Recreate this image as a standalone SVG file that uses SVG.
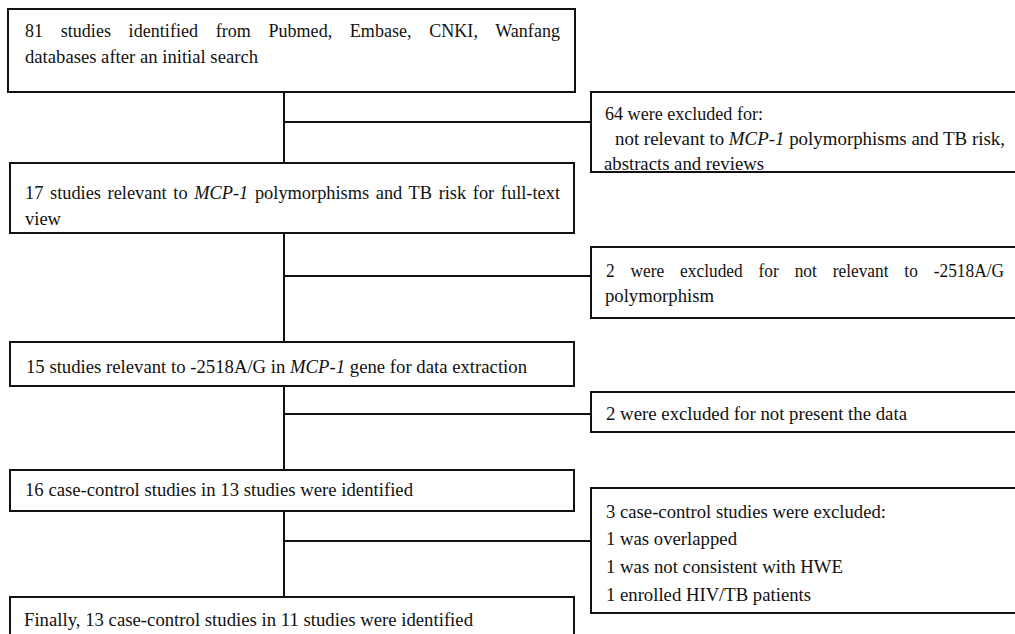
<svg xmlns="http://www.w3.org/2000/svg" width="1015" height="634" viewBox="0 0 1015 634">
<style>
.box{fill:#fff;stroke:#111;stroke-width:2}
.ln{stroke:#111;stroke-width:2;fill:none}
text{font-family:"Liberation Serif","Times New Roman",serif;font-size:18px;fill:#111}
.i{font-style:italic}
</style>
<rect width="1015" height="634" fill="#fff"/>
<g id="connectors">
<path class="ln" d="M284 92V163M284 122H591"/>
<path class="ln" d="M284 233V342M284 276H591"/>
<path class="ln" d="M284 386V470M284 414H591"/>
<path class="ln" d="M284 511V597M284 541H591"/>
</g>
<g id="n1"><rect class="box" x="8" y="9" width="567" height="83"/>
<text x="25" y="37" word-spacing="13" textLength="535" lengthAdjust="spacing">81 studies identified from Pubmed, Embase, CNKI, Wanfang</text>
<text x="25" y="63" textLength="233" lengthAdjust="spacingAndGlyphs">databases after an initial search</text></g>
<g id="x1"><rect class="box" x="591" y="92" width="440" height="80"/>
<text x="605" y="120" textLength="158" lengthAdjust="spacingAndGlyphs">64 were excluded for:</text>
<text x="615" y="145" textLength="390" lengthAdjust="spacingAndGlyphs">not relevant to <tspan class="i">MCP-1</tspan> polymorphisms and TB risk,</text>
<text x="604" y="170" textLength="160" lengthAdjust="spacingAndGlyphs">abstracts and reviews</text></g>
<g id="n2"><rect class="box" x="10" y="163" width="564" height="70"/>
<text x="25" y="199" word-spacing="2" textLength="535" lengthAdjust="spacingAndGlyphs">17 studies relevant to <tspan class="i">MCP-1</tspan> polymorphisms and TB risk for full-text</text>
<text x="25" y="225" textLength="36" lengthAdjust="spacingAndGlyphs">view</text></g>
<g id="x2"><rect class="box" x="591" y="247" width="440" height="71"/>
<text x="606" y="277" word-spacing="12" textLength="398" lengthAdjust="spacingAndGlyphs">2 were excluded for not relevant to -2518A/G</text>
<text x="605" y="302" textLength="109" lengthAdjust="spacingAndGlyphs">polymorphism</text></g>
<g id="n3"><rect class="box" x="10" y="342" width="564" height="44"/>
<text x="26" y="373" textLength="501" lengthAdjust="spacingAndGlyphs">15 studies relevant to -2518A/G in <tspan class="i">MCP-1</tspan> gene for data extraction</text></g>
<g id="x3"><rect class="box" x="591" y="392" width="440" height="40"/>
<text x="606" y="420" textLength="301" lengthAdjust="spacingAndGlyphs">2 were excluded for not present the data</text></g>
<g id="n4"><rect class="box" x="10" y="470" width="564" height="41"/>
<text x="25" y="496" textLength="388" lengthAdjust="spacingAndGlyphs">16 case-control studies in 13 studies were identified</text></g>
<g id="x4"><rect class="box" x="591" y="488" width="440" height="125"/>
<text x="606" y="518" textLength="280" lengthAdjust="spacingAndGlyphs">3 case-control studies were excluded:</text>
<text x="606" y="545" textLength="131" lengthAdjust="spacingAndGlyphs">1 was overlapped</text>
<text x="606" y="573" textLength="237" lengthAdjust="spacingAndGlyphs">1 was not consistent with HWE</text>
<text x="606" y="601" textLength="205" lengthAdjust="spacingAndGlyphs">1 enrolled HIV/TB patients</text></g>
<g id="n5"><rect class="box" x="10" y="597" width="564" height="60"/>
<text x="24" y="626" textLength="449" lengthAdjust="spacingAndGlyphs">Finally, 13 case-control studies in 11 studies were identified</text></g>
</svg>
